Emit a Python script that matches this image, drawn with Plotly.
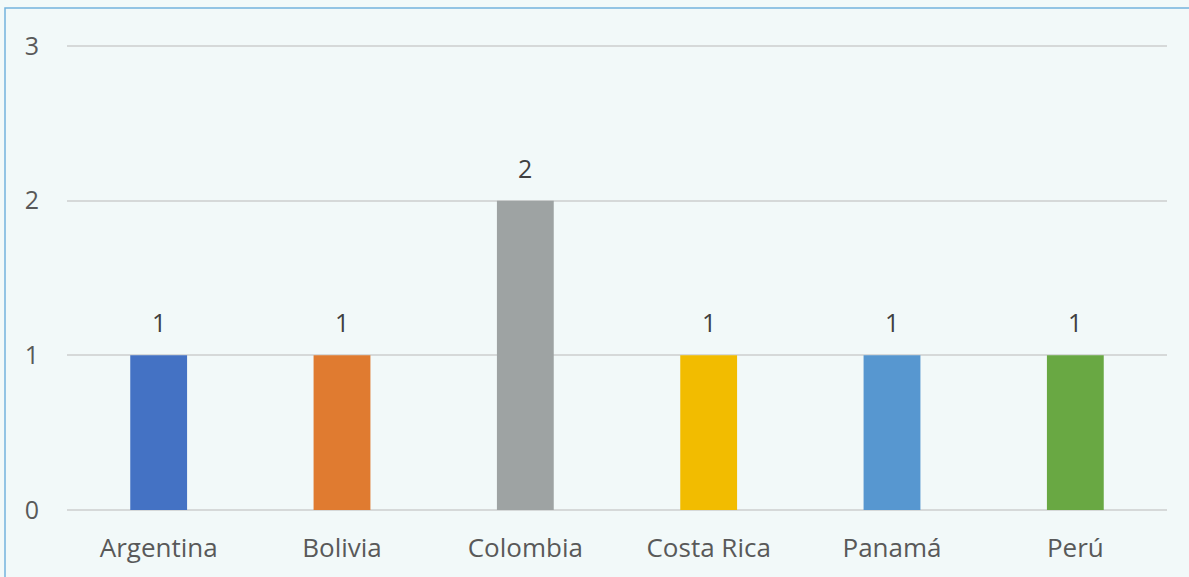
import plotly.graph_objects as go

categories = ["Argentina", "Bolivia", "Colombia", "Costa Rica", "Panamá", "Perú"]
values = [1, 1, 2, 1, 1, 1]
colors = ["#4472C4", "#E07B30", "#9EA3A3", "#F2BC00", "#5797D0", "#69A843"]
y_ticks = [0, 1, 2, 3]
y_max = 3.032

W, H = 1189, 577
L, R, T, B = 67, 22, 41, 67
pw, ph = W - L - R, H - T - B
FONT = "Open Sans, sans-serif"

fig = go.Figure(go.Bar(
    x=categories, y=values,
    marker=dict(color=colors, line=dict(width=0)),
    cliponaxis=False,
))

for c, v in zip(categories, values):
    fig.add_annotation(x=c, y=v, text=str(v), showarrow=False, yanchor="bottom",
                       yshift=14, font=dict(family=FONT, size=25, color="#404040"))

fig.update_layout(
    width=W, height=H,
    margin=dict(l=L, r=R, t=T, b=B),
    paper_bgcolor="#F2F9F9", plot_bgcolor="#F2F9F9",
    bargap=0.69,
    showlegend=False,
    font=dict(family=FONT, color="#595959"),
    xaxis=dict(showgrid=False, showline=False, ticks="", ticklabelstandoff=20,
               tickfont=dict(size=26, color="#595959")),
    yaxis=dict(range=[0, y_max], tickvals=y_ticks, showgrid=True, gridcolor="#D6D9D9", gridwidth=2,
               zeroline=True, zerolinecolor="#D6D9D9", zerolinewidth=2,
               ticks="", ticklabelstandoff=27, tickfont=dict(size=25, color="#595959")),
    shapes=[dict(type="rect", xref="paper", yref="paper",
                 x0=(5 - L) / pw, x1=(W + 20 - L) / pw,
                 y0=(H - B - (H + 20)) / ph, y1=(H - B - 8) / ph,
                 line=dict(color="#74B3DD", width=1.5), fillcolor="rgba(0,0,0,0)", layer="below")],
)

fig.write_html("out.html", config={"displayModeBar": False},
               post_script="document.body.style.margin='0';document.body.style.background='#F2F9F9';")
